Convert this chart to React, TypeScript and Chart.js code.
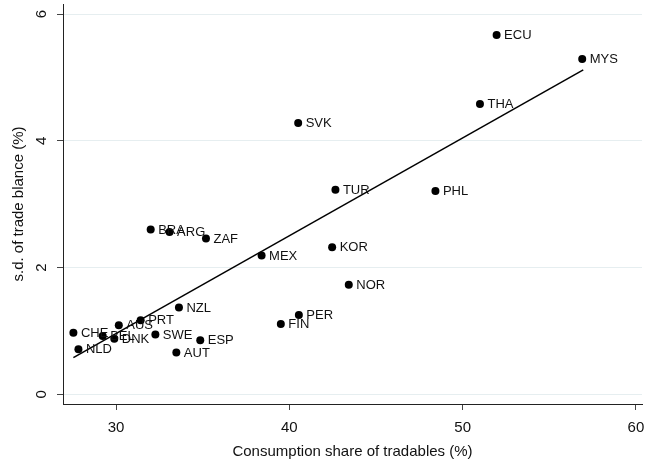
import React, { useEffect, useRef } from 'react';
import { Chart, registerables } from 'chart.js';

Chart.register(...registerables);

const countries = ['ECU', 'MYS', 'THA', 'SVK', 'TUR', 'PHL', 'KOR', 'MEX', 'NOR', 'FIN', 'PER', 'BRA', 'ARG', 'ZAF', 'NZL', 'PRT', 'AUS', 'CHE', 'BEL', 'DNK', 'SWE', 'ESP', 'AUT', 'NLD'];
const tradableShare = [51.96, 56.9, 51.0, 40.51, 42.66, 48.43, 42.47, 38.4, 43.43, 39.51, 40.55, 32.0, 33.09, 35.19, 33.63, 31.42, 30.16, 27.54, 29.23, 29.9, 32.27, 34.86, 33.48, 27.83];
const tradeBalanceSd = [5.67, 5.29, 4.58, 4.28, 3.23, 3.21, 2.32, 2.19, 1.73, 1.11, 1.25, 2.6, 2.56, 2.46, 1.37, 1.17, 1.09, 0.97, 0.92, 0.876, 0.945, 0.855, 0.66, 0.71];
const fitX = [27.54, 56.96];
const fitY = [0.58, 5.12];
const xTicks = [30, 40, 50, 60];
const yTicks = [0, 2, 4, 6];

const FONT = "'Liberation Sans', Arial, sans-serif";

const pointLabels = {
  id: 'pointLabels',
  afterDatasetsDraw(chart: any) {
    const meta = chart.getDatasetMeta(0);
    const ctx = chart.ctx;
    ctx.save();
    ctx.font = `13px ${FONT}`;
    ctx.fillStyle = '#111';
    ctx.textAlign = 'left';
    ctx.textBaseline = 'middle';
    meta.data.forEach((el: any, i: number) => {
      ctx.fillText(countries[i], el.x + 7.5, el.y + 0.5);
    });
    ctx.restore();
  },
};

export default function App() {
  const ref = useRef<HTMLCanvasElement>(null);
  useEffect(() => {
    document.body.style.margin = '0';
    const chart = new Chart(ref.current!, {
      type: 'scatter',
      data: {
        datasets: [
          {
            label: 'countries',
            data: tradableShare.map((x, i) => ({ x, y: tradeBalanceSd[i] })),
            backgroundColor: '#000',
            borderColor: '#000',
            pointRadius: 4,
            borderWidth: 0,
          },
          {
            label: 'fit',
            type: 'line',
            data: fitX.map((x, i) => ({ x, y: fitY[i] })),
            borderColor: '#000',
            borderWidth: 1.5,
            pointRadius: 0,
            fill: false,
          } as any,
        ],
      },
      options: {
        animation: false,
        responsive: true,
        maintainAspectRatio: false,
        layout: { padding: { top: 2, right: 0, left: 0, bottom: 0 } },
        plugins: { legend: { display: false }, tooltip: { enabled: false } },
        scales: {
          x: {
            type: 'linear',
            min: 26.94,
            max: 60.35,
            afterBuildTicks: (s: any) => {
              s.ticks = xTicks.map((v) => ({ value: v }));
            },
            afterFit: (s: any) => {
              s.height = 60;
              s.paddingLeft = 0;
              s.paddingRight = 0;
            },
            grid: { drawOnChartArea: false, drawTicks: true, tickLength: 6, tickColor: '#444' },
            border: { display: true, color: '#222', width: 1 },
            ticks: { color: '#111', font: { family: FONT, size: 15 }, padding: 9, maxRotation: 0 },
            title: {
              display: true,
              text: 'Consumption share of tradables (%)',
              color: '#111',
              font: { family: FONT, size: 15 },
              padding: { top: 0, bottom: 3 },
            },
          },
          y: {
            type: 'linear',
            min: -0.153,
            max: 6.16,
            afterBuildTicks: (s: any) => {
              s.ticks = yTicks.map((v) => ({ value: v }));
            },
            afterFit: (s: any) => {
              s.width = 63;
              s.paddingTop = 0;
              s.paddingBottom = 0;
            },
            grid: { color: '#e6eef0', lineWidth: 1, drawTicks: true, tickLength: 6, tickColor: '#444' },
            border: { display: true, color: '#222', width: 1 },
            ticks: {
              color: '#111',
              font: { family: FONT, size: 15 },
              padding: 11,
              minRotation: 90,
              maxRotation: 90,
              crossAlign: 'center',
            },
            title: {
              display: true,
              text: 's.d. of trade blance (%)',
              color: '#111',
              font: { family: FONT, size: 15 },
              padding: { top: 10, bottom: 0 },
            },
          },
        },
      },
      plugins: [pointLabels],
    });
    return () => chart.destroy();
  }, []);
  return (
    <div style={{ width: 646, height: 464, position: 'relative' }}>
      <canvas ref={ref} />
    </div>
  );
}
